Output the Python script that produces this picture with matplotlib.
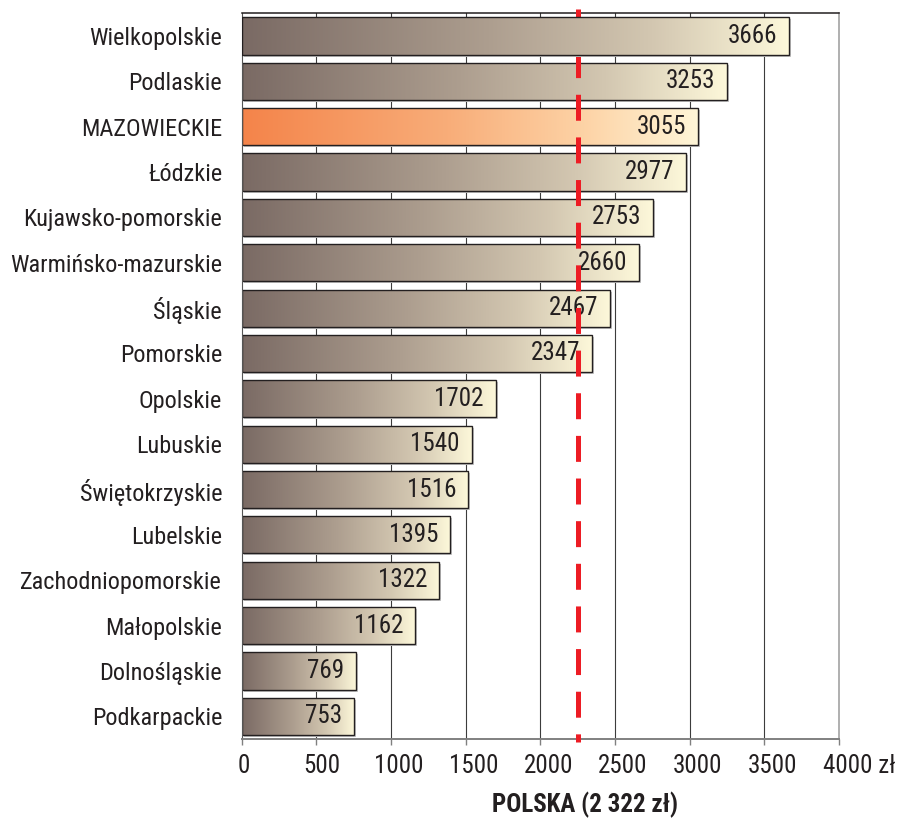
import matplotlib
matplotlib.use('Agg')
import matplotlib.pyplot as plt
import numpy as np
from matplotlib.patches import Rectangle
from matplotlib.colors import LinearSegmentedColormap
from matplotlib.transforms import ScaledTranslation
from matplotlib import font_manager

# ---- font selection: prefer a condensed sans face ----
entries = font_manager.fontManager.ttflist
preferred = ['Roboto Condensed', 'Liberation Sans Narrow', 'Arial Narrow', 'Nimbus Sans Narrow',
             'DejaVu Sans Condensed', 'Noto Sans Condensed', 'Open Sans Condensed',
             'Noto Sans', 'Roboto', 'Open Sans', 'Inter', 'Lato', 'DejaVu Sans']
chosen = None
for name in preferred:
    matches = [e for e in entries if e.name == name and str(e.stretch) in
               ('condensed', 'semi-condensed', 'extra-condensed', '75', '87.5', '62.5')]
    if 'Condensed' in name or 'Narrow' in name:
        matches = [e for e in entries if e.name == name]
    if matches:
        chosen = (name, matches[0].stretch)
        break
if chosen is None:
    chosen = ('Liberation Sans', 'normal')
    condensed = False
else:
    condensed = True

plt.rcParams['font.family'] = [chosen[0], 'DejaVu Sans']
plt.rcParams['font.stretch'] = chosen[1] if condensed else 'normal'
plt.rcParams['lines.scale_dashes'] = False
scale = 1.0 if condensed else 0.86

# ---- data ----
categories = ['Wielkopolskie', 'Podlaskie', 'MAZOWIECKIE', 'Łódzkie', 'Kujawsko-pomorskie',
              'Warmińsko-mazurskie', 'Śląskie', 'Pomorskie', 'Opolskie', 'Lubuskie',
              'Świętokrzyskie', 'Lubelskie', 'Zachodniopomorskie', 'Małopolskie',
              'Dolnośląskie', 'Podkarpackie']
values = [3666, 3253, 3055, 2977, 2753, 2660, 2467, 2347, 1702, 1540, 1516, 1395, 1322, 1162, 769, 753]
highlight = 'MAZOWIECKIE'
xticks = [0, 500, 1000, 1500, 2000, 2500, 3000, 3500, 4000]
xtick_labels = ['0', '500', '1000', '1500', '2000', '2500', '3000', '3500', '4000 zł']
polska_label = 'POLSKA (2 322 zł)'
polska_line = 2256

# ---- figure ----
fig = plt.figure(figsize=(8.99, 8.18), dpi=100)
ax = fig.add_axes([241.5 / 899, 79 / 818, 597.5 / 899, 725.7 / 818])

grey_cmap = LinearSegmentedColormap.from_list(
    'grey', [(0, '#7a6a64'), (0.45, '#ad9e8f'), (0.75, '#d3c7b1'), (1, '#fdf8da')])
orange_cmap = LinearSegmentedColormap.from_list(
    'orange', [(0, '#f4844a'), (0.45, '#f8ad79'), (0.75, '#fdd3a6'), (1, '#fff6d8')])
grad = np.linspace(0, 1, 256).reshape(1, -1)

bar_h = 0.82
shadow_tr = ax.transData + ScaledTranslation(2 / 100, -2 / 100, fig.dpi_scale_trans)
for i, (c, v) in enumerate(zip(categories, values)):
    z = 5 if i == 0 else 2
    cmap = orange_cmap if c == highlight else grey_cmap
    y0 = i - bar_h / 2
    y1 = i + bar_h / 2
    shadow = Rectangle((0, y0), v, bar_h, facecolor='#c4c4c4', edgecolor='none',
                       zorder=z - 0.02, transform=shadow_tr)
    ax.add_patch(shadow)
    im = ax.imshow(grad, cmap=cmap, extent=(0, v, y1, y0), aspect='auto',
                   interpolation='bilinear', zorder=z)
    rect = Rectangle((0, y0), v, bar_h, facecolor='none', edgecolor='#231f20',
                     lw=1.0, zorder=z + 0.01)
    ax.add_patch(rect)
    im.set_clip_path(rect)
    ax.annotate(str(v), xy=(v, i), xytext=(-8.5, 0), textcoords='offset points',
                ha='right', va='center', fontsize=18 * scale, color='#231f20', zorder=z + 0.5)

for xv in xticks[1:-1]:
    ax.axvline(xv, color='#3c3c3c', lw=0.8, zorder=1)

ax.plot([polska_line, polska_line], [-0.59, 15.57], color='#ed1c24', lw=3.6,
        ls=(0, (18.7, 12.0)), dash_capstyle='butt', zorder=3, clip_on=False)

ax.set_xlim(0, 4000)
ax.set_ylim(15.5, -0.5)

ax.set_xticks(xticks)
ax.set_xticklabels(xtick_labels, fontsize=18 * scale, color='#231f20')
ax.tick_params(axis='x', length=4, width=1, color='#808080', pad=7)
offsets = [2, 6, 8, 8, 8, 8, 8, 8, 20]
for lbl, dx in zip(ax.get_xticklabels(), offsets):
    lbl.set_transform(lbl.get_transform() + ScaledTranslation(dx / 100, 0, fig.dpi_scale_trans))

ax.set_yticks(range(len(categories)))
ax.set_yticklabels(categories, fontsize=17.5 * (scale if condensed else 0.8), color='#231f20')
ax.tick_params(axis='y', length=0, pad=14)

ax.spines['top'].set_color('#231f20')
ax.spines['top'].set_linewidth(1.1)
ax.spines['bottom'].set_color('#808080')
ax.spines['bottom'].set_linewidth(1.4)
ax.spines['right'].set_color('#9a9a9a')
ax.spines['right'].set_linewidth(1.1)
ax.spines['left'].set_color('#555555')
ax.spines['left'].set_linewidth(0.8)

fig.text(585 / 899, 1 - 805 / 818, polska_label, ha='center', va='center',
         fontsize=18 * scale, fontweight='bold', color='#231f20')

fig.savefig('out.png', dpi=100)
